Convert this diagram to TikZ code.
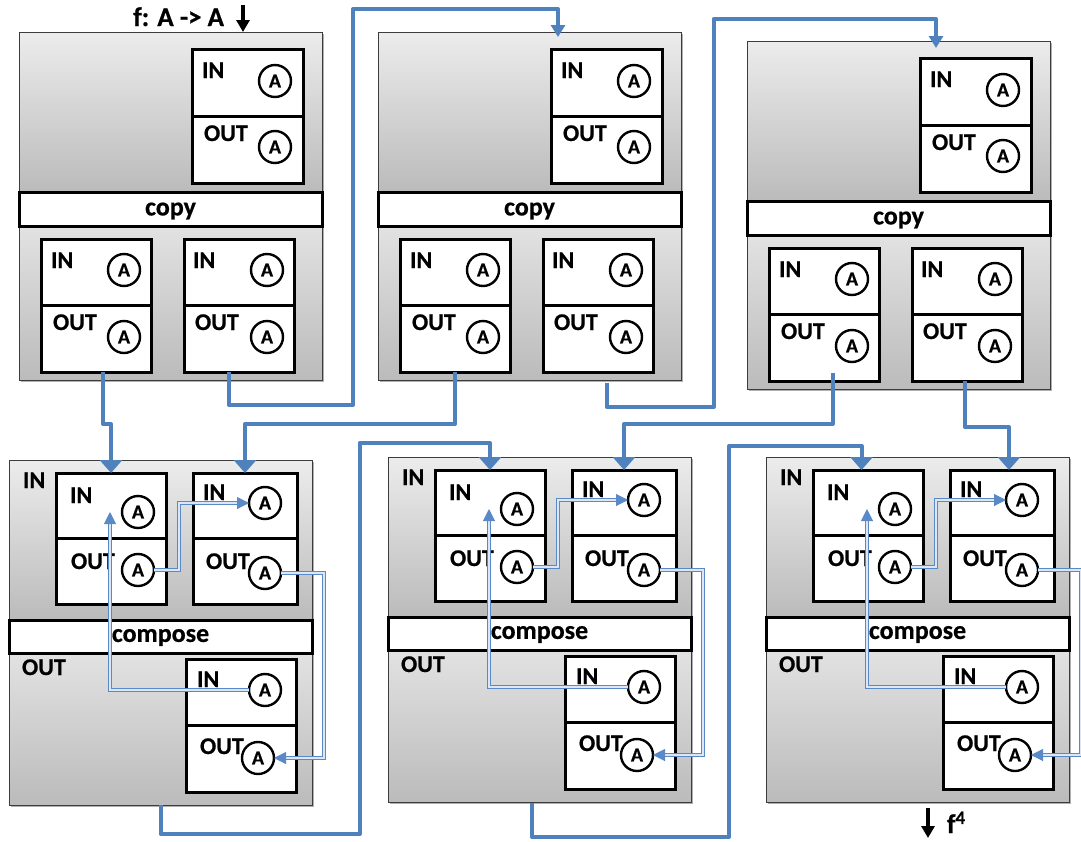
\documentclass[tikz,border=0pt]{standalone}
\usepackage{fontspec}
\setmainfont{Carlito}[BoldFeatures={FakeBold=0.6}]
\usetikzlibrary{arrows.meta,calc}
\definecolor{lnblue}{HTML}{4F81BD}
\definecolor{dblblue}{HTML}{5A89C8}
\definecolor{dblfill}{HTML}{DCE6F4}
\definecolor{framegray}{HTML}{3C3C3C}
\definecolor{gA}{HTML}{ECECEC}
\definecolor{gB}{HTML}{BBBBBB}
\definecolor{gC}{HTML}{E2E2E2}
\definecolor{shadowgray}{HTML}{B0B0B0}
\tikzset{
  basic/.style={outer sep=0pt, inner sep=0pt},
  outerbox/.style={basic, draw=framegray, line width=1pt, anchor=north west},
  ibox/.style={basic, draw, line width=3pt, fill=white, anchor=north west},
  barbox/.style={basic, draw, line width=3pt, fill=white, anchor=north west},
  bartext/.style={basic, font=\fontsize{26}{26}\selectfont\bfseries},
  acirc/.style={basic, circle, draw, line width=2.4pt, fill=white, minimum size=32pt, font=\fontsize{20}{20}\selectfont\bfseries},
  lbl/.style={basic, anchor=base west, font=\fontsize{24}{24}\selectfont\bfseries},
  biglbl/.style={basic, font=\fontsize{27}{27}\selectfont\bfseries},
  link/.style={draw=lnblue, line width=4pt, line join=round, -{Triangle[width=22pt,length=13pt]}},
  linktop/.style={draw=lnblue, line width=4pt, line join=round, -{Triangle[width=14pt,length=12pt]}},
  dbl/.style={draw=dblblue, double=dblfill, line width=1pt, double distance=1.8pt, -{Triangle[width=12pt,length=12pt]}},
  blk/.style={draw=black, line width=3.5pt, -{Triangle[width=13pt,length=12pt]}},
  divider/.style={line width=3pt}
}
\newcommand{\copyblock}[3]{%
\begin{scope}[shift={(#2,#3)}]
 \fill[shadowgray] (2,2) rectangle (305,350);
 \shade[top color=gA, bottom color=gB] (0,0) rectangle (303,160);
 \shade[top color=gC, bottom color=gB] (0,194) rectangle (303,348);
 \node[outerbox, minimum width=303pt, minimum height=348pt] (#1) at (0,0) {};
 \node[barbox, minimum width=303pt, minimum height=34pt] (#1-bar) at (0,160) {};
 \node[bartext] (#1-bartxt) at ([yshift=-2pt]#1-bar.center) {copy};
 \node[ibox, minimum width=111pt, minimum height=134pt] (#1-t) at (173,17) {};
 \draw[divider] (#1-t.west) -- (#1-t.east);
 \node[lbl] (#1-tl1) at (183,46) {IN};
 \node[lbl] (#1-tl2) at (185,109) {OUT};
 \node[acirc] (#1-ti) at (256,49) {A};
 \node[acirc] (#1-to) at (256,115) {A};
 \node[ibox, minimum width=110pt, minimum height=133pt] (#1-l) at (22,207) {};
 \draw[divider] (#1-l.west) -- (#1-l.east);
 \node[lbl] (#1-ll1) at (32,236) {IN};
 \node[lbl] (#1-ll2) at (34,298) {OUT};
 \node[acirc] (#1-li) at (105,238) {A};
 \node[acirc] (#1-lo) at (105,305) {A};
 \node[ibox, minimum width=110pt, minimum height=133pt] (#1-r) at (165,207) {};
 \draw[divider] (#1-r.west) -- (#1-r.east);
 \node[lbl] (#1-rl1) at (174,236) {IN};
 \node[lbl] (#1-rl2) at (176,298) {OUT};
 \node[acirc] (#1-ri) at (248,238) {A};
 \node[acirc] (#1-ro) at (248,305) {A};
\end{scope}}
\newcommand{\composeblock}[3]{%
\begin{scope}[shift={(#2,#3)}]
 \fill[shadowgray] (2,2) rectangle (305,347);
 \shade[top color=gA, bottom color=gB] (0,0) rectangle (303,160);
 \shade[top color=gC, bottom color=gB] (0,193) rectangle (303,345);
 \node[outerbox, minimum width=303pt, minimum height=345pt] (#1) at (0,0) {};
 \node[barbox, minimum width=303pt, minimum height=33pt] (#1-bar) at (0,160) {};
 \node[bartext] (#1-bartxt) at ([yshift=-1pt]#1-bar.center) {compose};
 \node[lbl] (#1-inl) at (14,28) {IN};
 \node[lbl] (#1-outl) at (13,215) {OUT};
 \node[ibox, minimum width=110pt, minimum height=131pt] (#1-a) at (47,13) {};
 \draw[divider] (#1-a.west) -- (#1-a.east);
 \node[lbl] (#1-al1) at (61,43) {IN};
 \node[lbl] (#1-al2) at (62,109) {OUT};
 \node[acirc] (#1-ai) at (129,52) {A};
 \node[acirc] (#1-ao) at (129,110) {A};
 \node[ibox, minimum width=104pt, minimum height=131pt] (#1-b) at (184,13) {};
 \draw[divider] (#1-b.west) -- (#1-b.east);
 \node[lbl] (#1-bl1) at (194,40) {IN};
 \node[lbl] (#1-bl2) at (197,109) {OUT};
 \node[acirc] (#1-bi) at (256,43) {A};
 \node[acirc] (#1-bo) at (256,113) {A};
 \node[ibox, minimum width=110pt, minimum height=133pt] (#1-c) at (177,199) {};
 \draw[divider] (#1-c.west) -- (#1-c.east);
 \node[lbl] (#1-cl1) at (188,227) {IN};
 \node[lbl] (#1-cl2) at (191,294) {OUT};
 \node[acirc] (#1-ci) at (256,230) {A};
 \node[acirc] (#1-co) at (249,298) {A};
 \draw[dbl] (#1-ao.east) -- ++(25,0) |- (#1-bi.west);
 \draw[dbl] (#1-bo.east) -- ++(43,0) |- (#1-co.east);
 \draw[dbl] (#1-ci.west) -| ([xshift=-12pt]#1-ai.west);
\end{scope}}
\begin{document}
\begin{tikzpicture}[x=1pt,y=-1pt]
\fill[white] (0,0) rectangle (1081,841);
\useasboundingbox (0,0) rectangle (1081,841);
\copyblock{P1}{19}{32}
\copyblock{P2}{378}{32}
\copyblock{P3}{747}{41}
\composeblock{C1}{9}{460}
\composeblock{C2}{388}{457}
\composeblock{C3}{766}{457}
% signature and output
\node[biglbl, anchor=base east] (sig) at (224,26) {f: A -> A};
\coordinate (sigarr) at (243,5);
\draw[blk] (sigarr) -- ([xshift=72.5pt]P1.north);
\coordinate (f4end) at (928,838);
\draw[blk] ([xshift=10.5pt,yshift=-6pt]C3.south) -- (f4end);
\node[biglbl, anchor=base west] (f4) at (947,833) {f\textsuperscript{4}};
% thick connectors
\draw[link] ([xshift=7pt]P1-l.south) -- ++(0,52) -| (C1-a.north);
\draw[linktop] ([xshift=-10pt]P1-r.south) -- ++(0,33) -- ++(124,0) -- ++(0,-396) -| ([xshift=28.5pt,yshift=-5pt]P2.north);
\draw[link] (P2-l.south) -- ++(0,52) -| (C1-b.north);
\draw[linktop] ([xshift=77pt,yshift=-3pt]P2.south) -- ++(0,24) -- ++(107,0) -- ++(0,-388) -| ([xshift=37.5pt,yshift=-7pt]P3.north);
\draw[link] ([xshift=8.5pt,yshift=8pt]P3-l.south) -- ++(0,51) -| (C2-b.north);
\draw[link] ([xshift=-2pt]P3-r.south) -- ++(0,46) -| ([xshift=7pt]C3-b.north);
\draw[link] (C1.south) -- ++(0,29) -- ++(199,0) -- ++(0,-391) -| (C2-a.north);
\draw[link] ([xshift=-7.5pt,yshift=-1pt]C2.south) -- ++(0,34) -- ++(197,0) -- ++(0,-391) -| ([xshift=-6.5pt]C3-a.north);
\end{tikzpicture}
\end{document}
